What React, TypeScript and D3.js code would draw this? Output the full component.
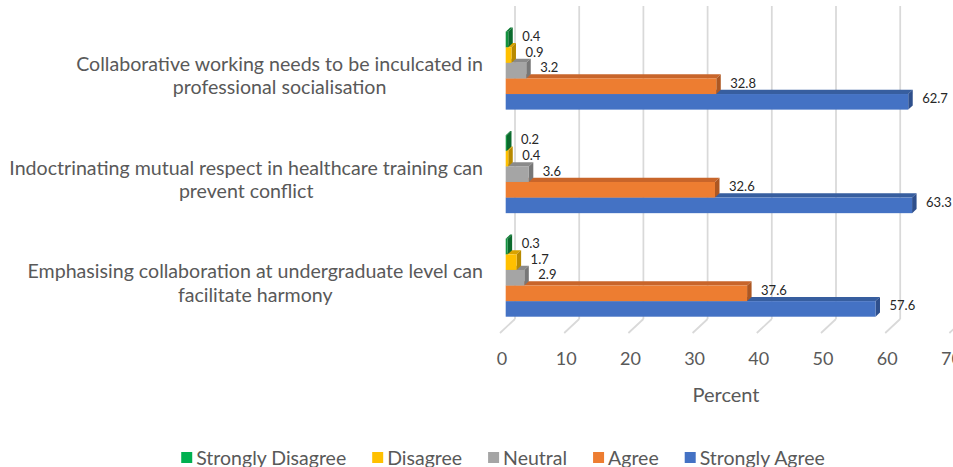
import { useEffect, useRef } from 'react';
import * as d3 from 'd3';

const categories = [
  'Collaborative working needs to be inculcated in professional socialisation',
  'Indoctrinating mutual respect in healthcare training can prevent conflict',
  'Emphasising collaboration at undergraduate level can facilitate harmony',
];
// where each category label wraps
const categoryLines = [
  ['Collaborative working needs to be inculcated in', 'professional socialisation'],
  ['Indoctrinating mutual respect in healthcare training can', 'prevent conflict'],
  ['Emphasising collaboration at undergraduate level can', 'facilitate harmony'],
];
const seriesNames = ['Strongly Disagree', 'Disagree', 'Neutral', 'Agree', 'Strongly Agree'];
const stronglyDisagree = [0.4, 0.2, 0.3];
const disagree = [0.9, 0.4, 1.7];
const neutral = [3.2, 3.6, 2.9];
const agree = [32.8, 32.6, 37.6];
const stronglyAgree = [62.7, 63.3, 57.6];
const seriesValues = [stronglyDisagree, disagree, neutral, agree, stronglyAgree];
const xTicks = [0, 10, 20, 30, 40, 50, 60, 70];

// legend colour, then front / top / side faces of the 3d bars
const legendColors = ['#00B050', '#FFC000', '#A5A5A5', '#ED7D31', '#4472C4'];
const frontColors = ['#13923F', '#FFC000', '#A5A5A5', '#ED7D31', '#4472C4'];
const topColors = ['#0E7A34', '#D9A300', '#8A8A8A', '#C8652A', '#375E9F'];
const sideColors = ['#0B6A2D', '#B88A00', '#777777', '#AD5722', '#2E4F8C'];

const W = 953;
const H = 467;
const DX = 15; // depth offset of the back wall
const DY = 14;
const ZF = 0.38; // bar front depth
const ZB = 0.68; // bar back depth
const FONT = 'Lato, "Open Sans", sans-serif';

const App = () => {
  const svgRef = useRef<SVGSVGElement>(null);

  useEffect(() => {
    if (!svgRef.current) return;
    const svg = d3.select(svgRef.current);
    svg.selectAll('*').remove();

    const x = d3.scaleLinear().domain([0, 70]).range([500, 949.4]);
    const y0 = d3.scaleBand<string>()
      .domain(categories)
      .range([26, 333])
      .paddingInner(0.247)
      .paddingOuter(0.106);
    const y1 = d3.scaleBand<string>()
      .domain(seriesNames)
      .range([0, y0.bandwidth()]);

    const proj = (v: number, yy: number, z: number): [number, number] => [x(v) + z * DX, yy - z * DY];
    const floorY = y0.range()[1];
    const wallTop = 6;

    // back wall gridlines and floor lines
    const grid = svg.append('g');
    xTicks.forEach(t => {
      const [bx, by] = proj(t, floorY, 1);
      grid.append('line')
        .attr('x1', bx).attr('x2', bx)
        .attr('y1', wallTop).attr('y2', by)
        .attr('stroke', '#D9D9D9').attr('stroke-width', 1.75);
      grid.append('line')
        .attr('x1', bx).attr('y1', by)
        .attr('x2', x(t)).attr('y2', floorY)
        .attr('stroke', '#D9D9D9').attr('stroke-width', 1.75);
    });

    // bars, painted bottom-up so upper bars hide the tops below
    const bars = svg.append('g');
    const labels = svg.append('g');
    categories.forEach((cat, ci) => {
      for (let si = seriesNames.length - 1; si >= 0; si--) {
        const v = seriesValues[si][ci];
        const top = (y0(cat) ?? 0) + (y1(seriesNames[si]) ?? 0);
        const bot = top + y1.bandwidth();
        const f0 = proj(0, top, ZF);
        const f1 = proj(v, bot, ZF);
        const b0 = proj(0, top, ZB);
        const b1 = proj(v, top, ZB);
        const b2 = proj(v, bot, ZB);
        const ft = proj(v, top, ZF);
        // top face
        bars.append('path')
          .attr('d', `M${f0[0]},${f0[1]}L${ft[0]},${ft[1]}L${b1[0]},${b1[1]}L${b0[0]},${b0[1]}Z`)
          .attr('fill', topColors[si]);
        // side face
        bars.append('path')
          .attr('d', `M${ft[0]},${ft[1]}L${f1[0]},${f1[1]}L${b2[0]},${b2[1]}L${b1[0]},${b1[1]}Z`)
          .attr('fill', sideColors[si]);
        // front face
        bars.append('rect')
          .attr('x', f0[0]).attr('y', f0[1])
          .attr('width', f1[0] - f0[0]).attr('height', f1[1] - f0[1])
          .attr('fill', frontColors[si]);

        const mid = proj(v, top + y1.bandwidth() / 2, 0.6);
        labels.append('text')
          .attr('x', ft[0] + 14)
          .attr('y', mid[1])
          .attr('dy', '0.35em')
          .attr('font-size', 13)
          .attr('fill', '#262626')
          .text(String(v));
      }
    });

    // category labels: centred block, right edge at 483
    categories.forEach((cat, ci) => {
      const g = svg.append('g');
      const c = (y0(cat) ?? 0) + y0.bandwidth() / 2;
      const texts = categoryLines[ci].map((line, li) =>
        g.append('text')
          .attr('y', c - 5 + li * 23.5)
          .attr('font-size', 19.6)
          .attr('fill', '#595959')
          .attr('text-anchor', 'middle')
          .text(line));
      const maxW = d3.max(texts, t => (t.node() as SVGTextElement).getComputedTextLength()) ?? 0;
      texts.forEach(t => t.attr('x', 483 - maxW / 2));
    });

    // tick labels
    svg.append('g').selectAll('text')
      .data(xTicks)
      .enter()
      .append('text')
      .attr('x', d => x(d) + 2)
      .attr('y', 365)
      .attr('text-anchor', 'middle')
      .attr('font-size', 18)
      .attr('fill', '#595959')
      .text(d => d);

    svg.append('text')
      .attr('x', 726)
      .attr('y', 401.5)
      .attr('text-anchor', 'middle')
      .attr('font-size', 20)
      .attr('fill', '#595959')
      .text('Percent');

    // legend centred under chart
    const legend = svg.append('g');
    const items = seriesNames.map((name, i) => {
      const g = legend.append('g');
      g.append('rect').attr('width', 11).attr('height', 11).attr('y', 452).attr('fill', legendColors[i]);
      const t = g.append('text')
        .attr('x', 15)
        .attr('y', 465)
        .attr('font-size', 19.5)
        .attr('fill', '#595959')
        .text(name);
      return { g, w: 15 + (t.node() as SVGTextElement).getComputedTextLength() };
    });
    const gap = 26;
    const total = d3.sum(items, d => d.w) + gap * (items.length - 1);
    let cx = 503 - total / 2;
    items.forEach(it => {
      it.g.attr('transform', `translate(${cx},0)`);
      cx += it.w + gap;
    });
  }, []);

  return (
    <svg
      ref={svgRef}
      width={W}
      height={H}
      style={{ position: 'absolute', left: 0, top: 0, background: '#fff', fontFamily: FONT }}
    />
  );
};

export default App;
